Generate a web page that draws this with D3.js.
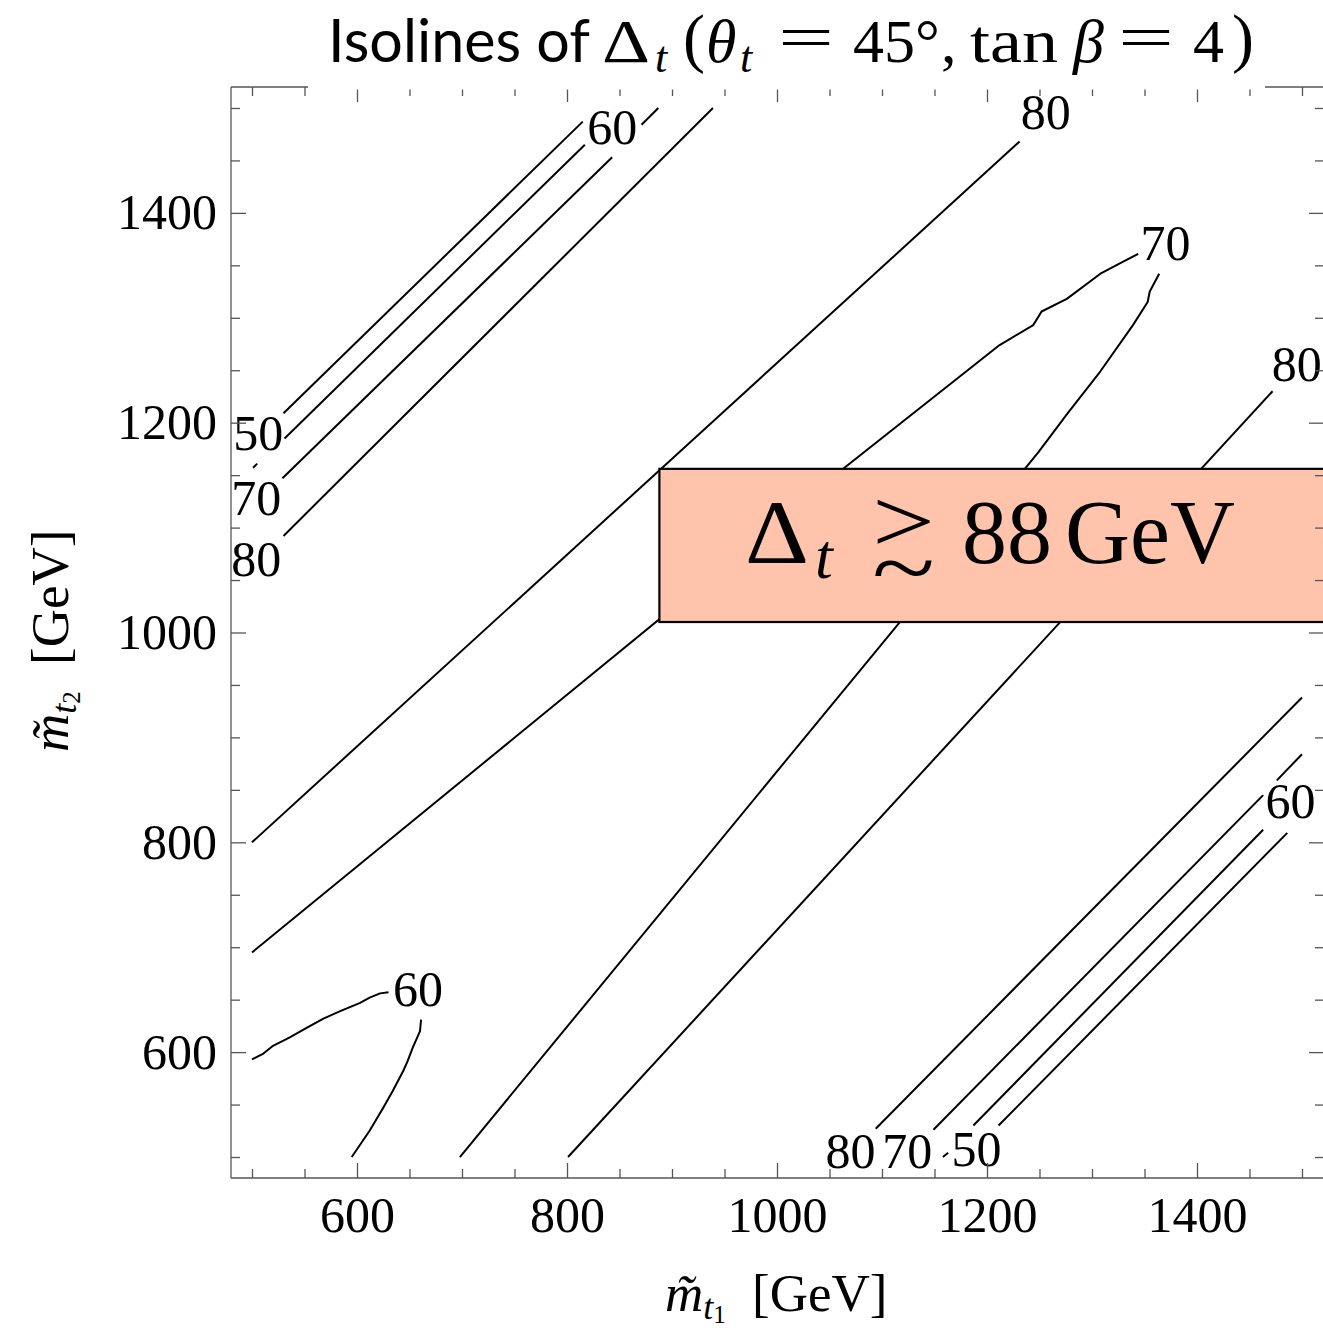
<!DOCTYPE html>
<html>
<head>
<meta charset="utf-8">
<script src="https://cdn.jsdelivr.net/npm/d3@7"></script>
<style>
  html, body { margin: 0; padding: 0; background: #fff; }
  svg { display: block; }
</style>
</head>
<body>
<div id="chart"></div>
<script>
// isolines, in GeV: [m_t1, m_t2] points, one array per visible piece
const contour50 = [
  [[530, 1209], [815, 1487]],
  [[1211, 530], [1486, 809]]
];
const contour60 = [
  [[531, 1185], [817, 1465]],
  [[501, 1157], [505, 1161]],
  [[1158, 500], [1163, 504]],
  [[1187, 530], [1463, 812]],
  [[500, 593], [510, 598], [520, 606], [536, 614], [552, 623], [568, 632], [584, 639], [603, 647], [612, 652], [622, 656], [630, 657]],
  [[661, 631], [660, 620], [653, 604], [648, 591], [644, 582], [634, 563], [625, 547], [612, 525], [595, 500]]
];
const contour70 = [
  [[529, 1147], [843, 1453]],
  [[871, 1484], [887, 1500]],
  [[1149, 526], [1463, 845]],
  [[1476, 859], [1500, 884]],
  [[500, 695], [1063, 1156], [1212, 1274], [1244, 1293], [1252, 1306], [1276, 1318], [1308, 1342], [1327, 1352], [1344, 1361]],
  [[1364, 1342], [1355, 1325], [1353, 1315], [1339, 1293], [1308, 1249], [1276, 1208], [1249, 1172], [1117, 1010], [698, 500]]
];
const contour80 = [
  [[530, 1092], [939, 1500]],
  [[1094, 527], [1500, 938]],
  [[500, 800], [1231, 1468]],
  [[801, 500], [1472, 1230]]
];

// contour labels: [text, m_t1, m_t2]
const contourLabels = [
  ['60', 843, 1482], ['50', 506, 1190], ['70', 504, 1128], ['80', 504, 1070],
  ['80', 1256, 1496], ['70', 1370, 1371], ['80', 1495, 1256], ['60', 1489, 839],
  ['80', 1070, 506], ['70', 1124, 506], ['50', 1190, 508], ['60', 658, 660]
];

const majorTicks = [600, 800, 1000, 1200, 1400];
const minorTicks = [500, 550, 650, 700, 750, 850, 900, 950, 1050, 1100, 1150, 1250, 1300, 1350, 1450, 1500];

// shaded annotation box, GeV corners
const boxCorners = [[888, 1010], [1560, 1156]];

const width = 1323, height = 1328;
const serif = "'Liberation Serif', 'Times New Roman', serif";

const svg = d3.select('#chart').append('svg')
  .attr('width', width)
  .attr('height', height);

const x = d3.scaleLinear().domain([480, 1520]).range([231, 1323]);
const y = d3.scaleLinear().domain([480, 1520]).range([1178, 87]);

const line = d3.line().x(d => x(d[0])).y(d => y(d[1]));

// contour lines
const pieces = [].concat(contour50, contour60, contour70, contour80);
svg.append('g').selectAll('path')
  .data(pieces)
  .enter().append('path')
  .attr('d', line)
  .style('fill', 'none')
  .style('stroke', '#000')
  .style('stroke-width', '2px')
  .style('stroke-linejoin', 'round');

// contour labels
svg.append('g').selectAll('text')
  .data(contourLabels)
  .enter().append('text')
  .attr('x', d => x(d[1]))
  .attr('y', d => y(d[2]))
  .attr('dy', '0.34em')
  .attr('text-anchor', 'middle')
  .style('font-family', serif)
  .style('font-size', '50px')
  .text(d => d[0]);

// annotation box
const bx0 = x(boxCorners[0][0]), bx1 = x(boxCorners[1][0]);
const by0 = y(boxCorners[1][1]), by1 = y(boxCorners[0][1]);
svg.append('rect')
  .attr('x', bx0).attr('y', by0)
  .attr('width', bx1 - bx0).attr('height', by1 - by0)
  .style('fill', '#ffc4ab')
  .style('stroke', '#000')
  .style('stroke-width', '2.2px');

const boxText = svg.append('g').style('font-family', serif);
boxText.append('text').attr('x', 745).attr('y', 563).style('font-size', '90px')
  .attr('textLength', 64).attr('lengthAdjust', 'spacingAndGlyphs').text('Δ');
boxText.append('text').attr('x', 815).attr('y', 578).style('font-size', '64px').style('font-style', 'italic').text('t');
// "greater than or about": > stacked over ~
const gtrsim = boxText.append('text').style('font-size', '90px');
gtrsim.append('tspan').attr('x', 872).attr('y', 552)
  .attr('textLength', 63).attr('lengthAdjust', 'spacingAndGlyphs').text('>');
gtrsim.append('tspan').attr('x', 872).attr('y', 598)
  .attr('textLength', 63).attr('lengthAdjust', 'spacingAndGlyphs').text('~');
boxText.append('text').attr('x', 962).attr('y', 563).style('font-size', '90px').text('88');
boxText.append('text').attr('x', 1065).attr('y', 563).style('font-size', '90px').text('GeV');

// axes, ticks pointing inward
function styleAxis(g) {
  g.select('.domain').remove();
  g.selectAll('.tick line').style('stroke', '#555').style('stroke-width', '1.3px');
  g.selectAll('.tick text').style('font-family', serif).style('font-size', '50px').style('fill', '#000');
}
const axes = [
  [d3.axisBottom(x), `translate(0,${y(480)})`, 18],
  [d3.axisTop(x), `translate(0,${y(1520)})`, 0],
  [d3.axisLeft(y), `translate(${x(480)},0)`, 14],
  [d3.axisRight(y), `translate(${x(1520) + 1},0)`, 0]
];
axes.forEach(([ax, tr, pad]) => {
  svg.append('g').attr('transform', tr)
    .call(ax.tickValues(majorTicks).tickSize(-15).tickPadding(pad)
      .tickFormat(pad ? d3.format('d') : () => ''))
    .call(styleAxis);
  svg.append('g').attr('transform', tr)
    .call(ax.tickValues(minorTicks).tickSize(-9).tickFormat(() => ''))
    .call(styleAxis);
});

// frame
const frame = svg.append('g').style('stroke', '#555').style('stroke-width', '1.3px');
frame.append('line').attr('x1', x(480)).attr('x2', x(480)).attr('y1', y(1520)).attr('y2', y(480));
frame.append('line').attr('x1', x(480)).attr('x2', x(1520) + 1).attr('y1', y(480)).attr('y2', y(480));
frame.append('line').attr('x1', x(480)).attr('x2', x(1520) + 1).attr('y1', y(1520)).attr('y2', y(1520));

// title sits on a white patch over the top frame
svg.append('rect').attr('x', 308).attr('y', 0).attr('width', 957).attr('height', 89.5).style('fill', '#fff');
const title = svg.append('g').style('font-family', serif).style('font-size', '62px');
title.append('text').attr('x', 328).attr('y', 62)
  .style('font-family', "Lato, 'Open Sans', sans-serif").style('font-size', '60px')
  .attr('textLength', 262).attr('lengthAdjust', 'spacingAndGlyphs').text('Isolines of');
const titleParts = [
  ['Δ', 602, 62, 62, 'normal', 48],
  ['t', 655, 72, 44, 'italic', 0],
  ['(', 683, 60, 66, 'normal', 0],
  ['θ', 706, 62, 62, 'italic', 0],
  ['t', 740, 72, 44, 'italic', 0],
  ['=', 778, 58, 62, 'normal', 56],
  ['45°', 853, 62, 62, 'normal', 0],
  [',', 941, 62, 62, 'normal', 0],
  ['tan', 970, 62, 62, 'normal', 88],
  ['β', 1073, 62, 62, 'italic', 0],
  ['=', 1118, 58, 62, 'normal', 56],
  ['4', 1193, 62, 62, 'normal', 0],
  [')', 1232, 60, 66, 'normal', 0]
];
titleParts.forEach(([t, tx, ty, fs, st, len]) => {
  const el = title.append('text').attr('x', tx).attr('y', ty)
    .style('font-size', fs + 'px').style('font-style', st).text(t);
  if (len) el.attr('textLength', len).attr('lengthAdjust', 'spacingAndGlyphs');
});

// axis titles
function axisTitle(g, sub) {
  g.style('font-family', serif).style('font-size', '53px');
  g.append('tspan').attr('x', 0).style('font-style', 'italic').text('m\u0303');
  g.append('tspan').attr('dy', 8).style('font-style', 'italic').style('font-size', '36px').text('t');
  g.append('tspan').attr('dy', 4).style('font-size', '25px').text(sub);
  g.append('tspan').attr('x', 87).attr('dy', -12).text('[GeV]');
}
svg.append('text').attr('transform', 'translate(665,1311)').call(axisTitle, '1');
svg.append('text').attr('transform', 'translate(68,752) rotate(-90)').call(axisTitle, '2');
</script>
</body>
</html>
